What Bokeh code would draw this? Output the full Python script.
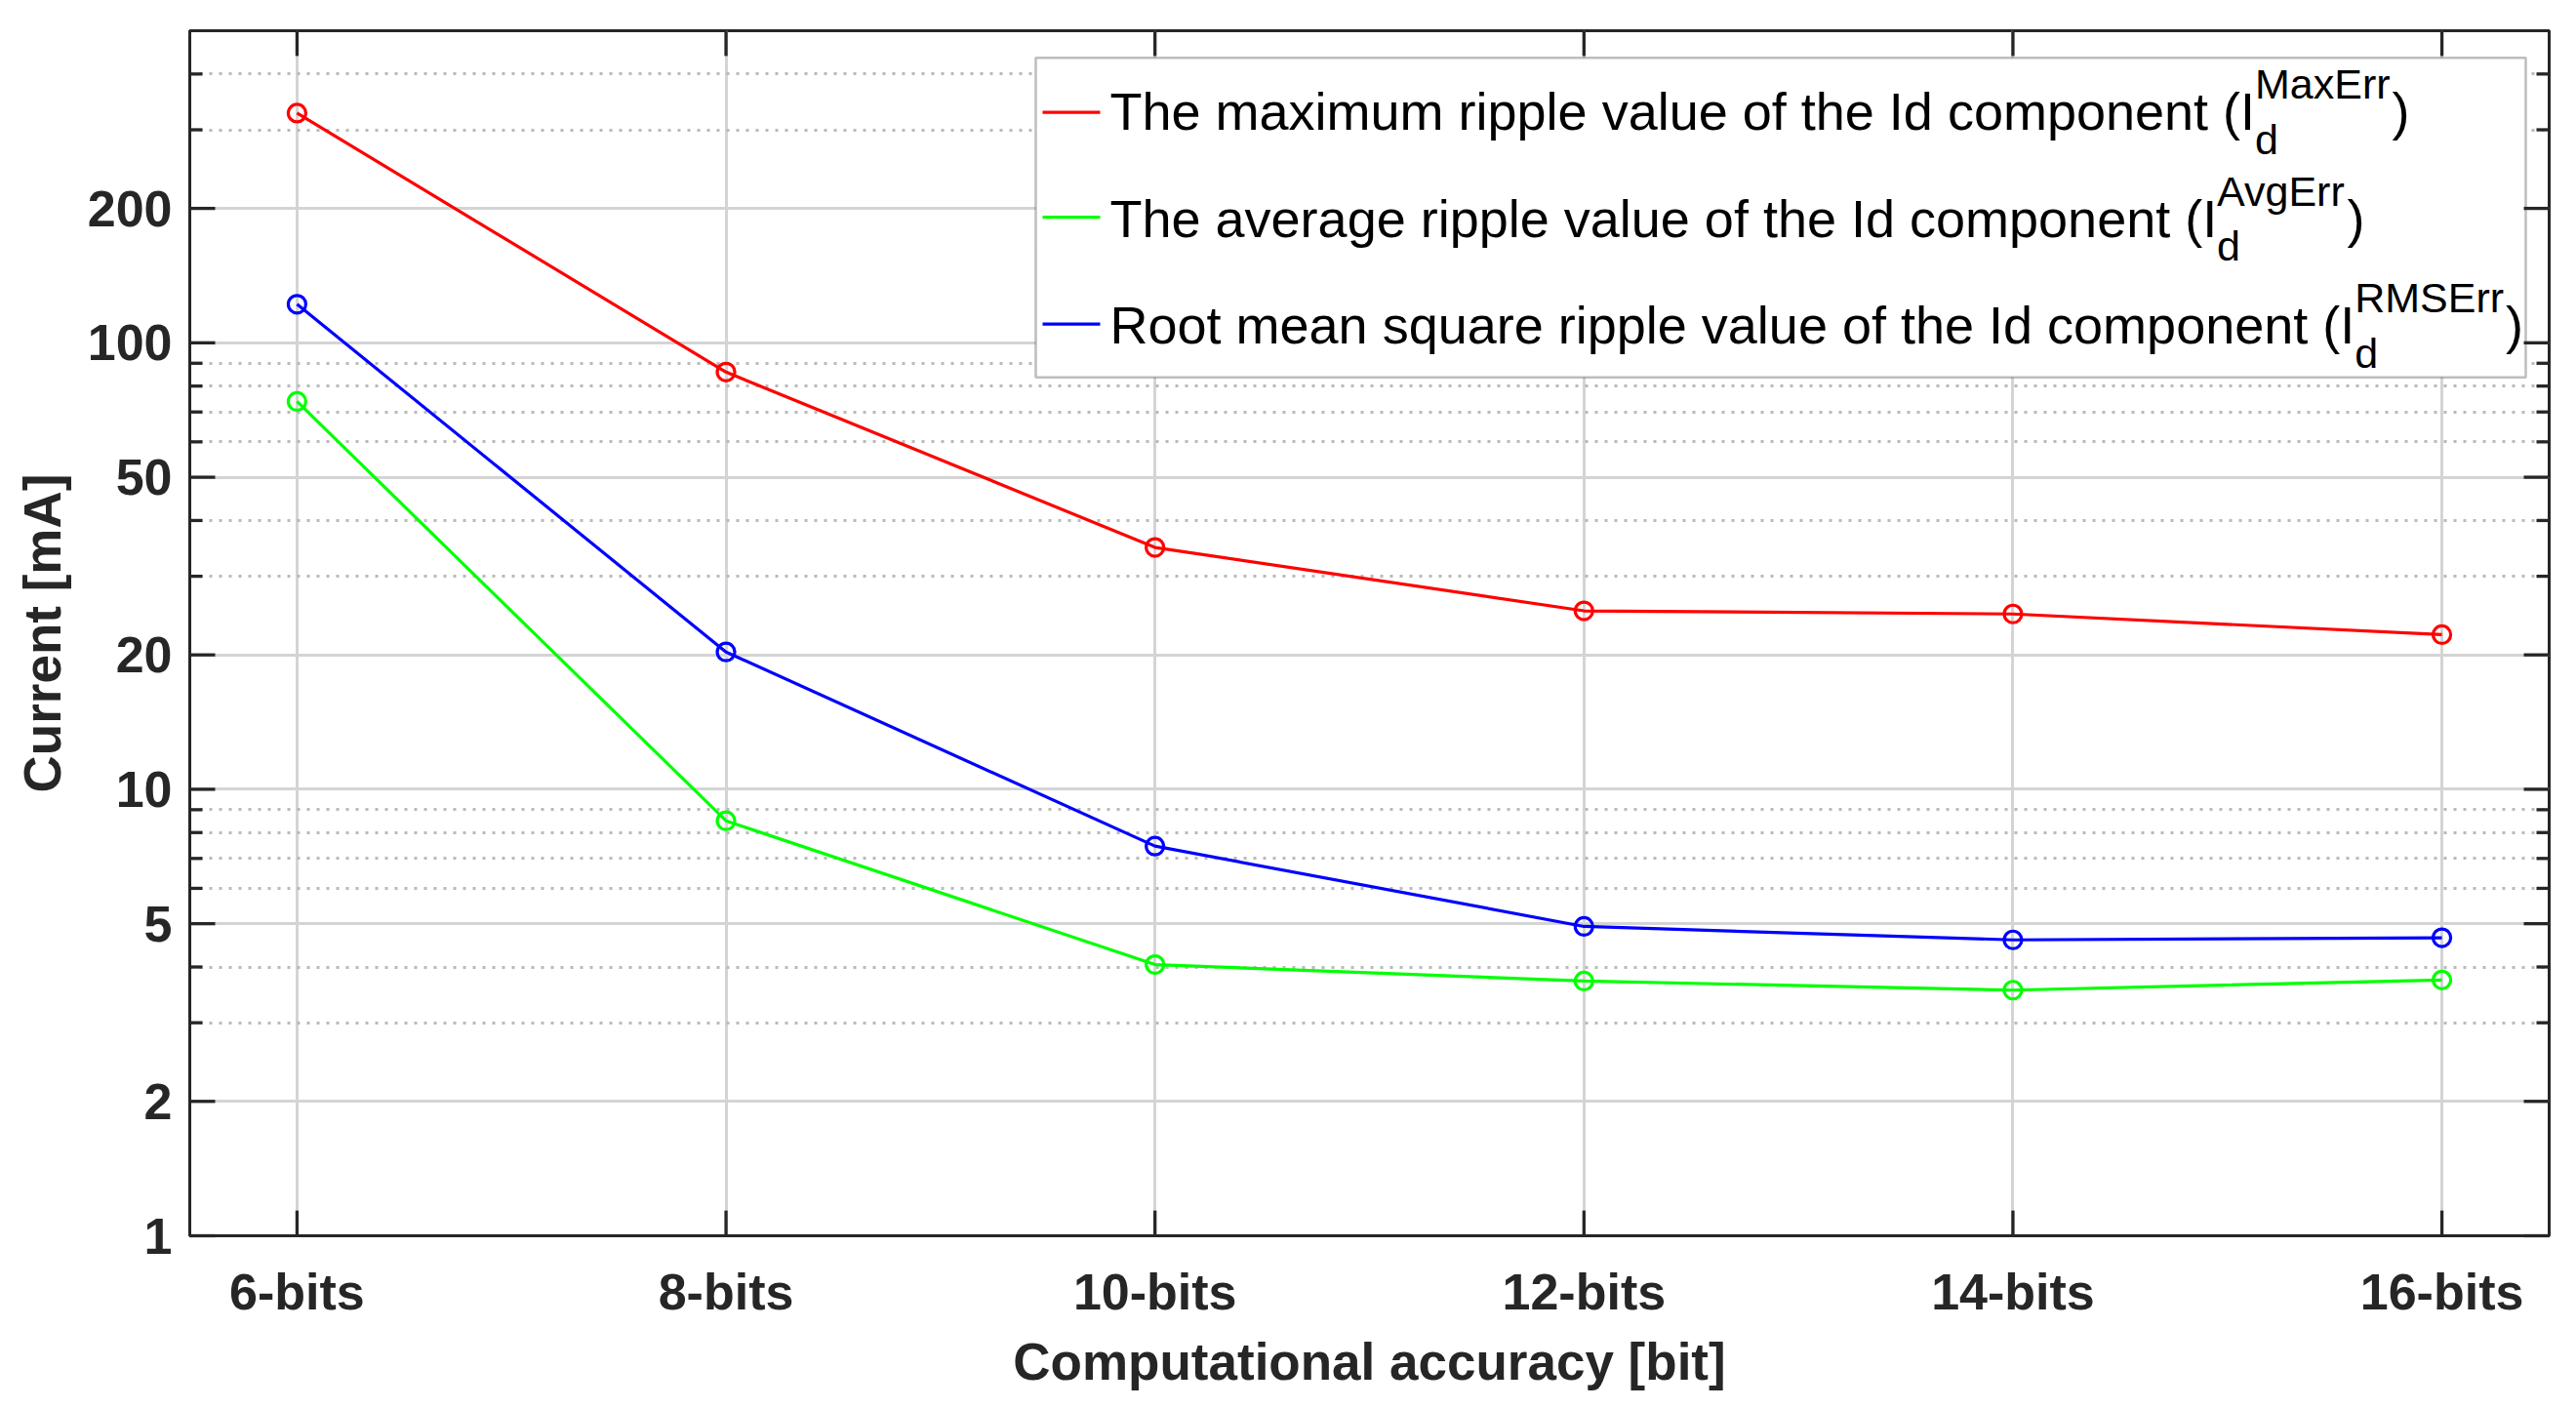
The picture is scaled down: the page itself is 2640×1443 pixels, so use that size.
import math
from bokeh.plotting import figure
from bokeh.models import FixedTicker, BoxAnnotation, Label, Range1d
from bokeh.embed import file_html
from bokeh.resources import INLINE

# ---------------- data ----------------
bits = [6, 8, 10, 12, 14, 16]
bit_labels = ["6-bits", "8-bits", "10-bits", "12-bits", "14-bits", "16-bits"]
max_err = [327, 86, 34.8, 25.1, 24.7, 22.2]      # I_d^MaxErr [mA]
avg_err = [73.9, 8.5, 4.05, 3.72, 3.55, 3.74]    # I_d^AvgErr [mA]
rms_err = [122, 20.3, 7.46, 4.93, 4.60, 4.65]    # I_d^RMSErr [mA]
y_major = [1, 2, 5, 10, 20, 50, 100, 200]
y_minor = [3, 4, 6, 7, 8, 9, 30, 40, 60, 70, 80, 90, 300, 400]
legend_main = [
    "The maximum ripple value of the Id component (I",
    "The average ripple value of the Id component (I",
    "Root mean square ripple value of the Id component (I",
]
legend_sup = ["MaxErr", "AvgErr", "RMSErr"]
legend_sub = "d"
series = [max_err, avg_err, rms_err]
colors = ["#ff0000", "#00ff00", "#0000ff"]

# ---------------- layout ----------------
W, H = 2624, 1427
ML, MR, MT, MB = 194, 12, 31, 155
FW, FH = W - ML - MR, H - MT - MB
X0, X1 = 5.5, 16.5
Y0, Y1 = 1, 500
FONT = "Liberation Sans"
AX = "#262626"

p = figure(width=W, height=H, x_range=Range1d(X0, X1), y_range=Range1d(Y0, Y1),
           y_axis_type="log", output_backend="svg", toolbar_location=None,
           min_border_left=ML, min_border_right=MR, min_border_top=MT, min_border_bottom=MB)
p.background_fill_color = "white"
p.border_fill_color = "white"
p.outline_line_color = AX
p.outline_line_width = 3


def style_axis(ax):
    ax.axis_line_color = AX
    ax.axis_line_width = 3
    ax.major_tick_in = 0
    ax.major_tick_out = 0
    ax.minor_tick_in = 0
    ax.minor_tick_out = 0
    ax.major_label_text_font = FONT
    ax.major_label_text_font_style = "bold"
    ax.major_label_text_font_size = "52px"
    ax.major_label_text_color = AX
    ax.axis_label_text_font = FONT
    ax.axis_label_text_font_style = "bold"
    ax.axis_label_text_font_size = "53px"
    ax.axis_label_text_color = AX


xt = FixedTicker(ticks=bits, minor_ticks=[])
yt = FixedTicker(ticks=y_major, minor_ticks=y_minor)

xa = p.xaxis[0]
xa.ticker = xt
xa.major_label_overrides = {b: l for b, l in zip(bits, bit_labels)}
style_axis(xa)
xa.major_label_standoff = 28
xa.axis_label = "Computational accuracy [bit]"
xa.axis_label_standoff = 10

ya = p.yaxis[0]
ya.ticker = yt
ya.major_label_overrides = {v: str(v) for v in y_major}
style_axis(ya)
ya.major_label_standoff = 18
ya.axis_label = "Current [mA]"
ya.axis_label_standoff = 14

# grids
p.xgrid.ticker = xt
p.ygrid.ticker = yt
p.xgrid.grid_line_color = "#d4d4d4"
p.xgrid.grid_line_width = 3
p.ygrid.grid_line_color = "#d4d4d4"
p.ygrid.grid_line_width = 3
p.ygrid.minor_grid_line_color = "#bababa"
p.ygrid.minor_grid_line_width = 3
p.ygrid.minor_grid_line_dash = "3 7"


# ---------------- helpers: frame pixel -> data ----------------
def fx(px):
    return X0 + px / FW * (X1 - X0)


def fy(py):
    ly0, ly1 = math.log10(Y0), math.log10(Y1)
    return 10 ** (ly1 - py / FH * (ly1 - ly0))


# inward ticks on all four sides (MATLAB box style)
MAJ, MIN = 26, 13
tick_kw = dict(line_color=AX, line_width=3.3, level="overlay")
nb, nM, nm = len(bits), len(y_major), len(y_minor)
p.segment(x0=bits, x1=bits, y0=[Y0] * nb, y1=[fy(FH - MAJ)] * nb, **tick_kw)
p.segment(x0=bits, x1=bits, y0=[Y1] * nb, y1=[fy(MAJ)] * nb, **tick_kw)
p.segment(x0=[X0] * nM, x1=[fx(MAJ)] * nM, y0=y_major, y1=y_major, **tick_kw)
p.segment(x0=[X1] * nM, x1=[fx(FW - MAJ)] * nM, y0=y_major, y1=y_major, **tick_kw)
p.segment(x0=[X0] * nm, x1=[fx(MIN)] * nm, y0=y_minor, y1=y_minor, **tick_kw)
p.segment(x0=[X1] * nm, x1=[fx(FW - MIN)] * nm, y0=y_minor, y1=y_minor, **tick_kw)

# data
for vals, c in zip(series, colors):
    p.line(bits, vals, line_color=c, line_width=3.2)
    p.scatter(bits, vals, marker="circle", size=18, line_color=c, line_width=3.2, fill_color=None)

# ---------------- legend (manual, to allow super/subscripts) ----------------
# Arial / Liberation Sans advance widths (per 1000 em)
CW = {" ": 278, "(": 333, ")": 333, "A": 667, "E": 667, "I": 278, "M": 833, "R": 722,
      "S": 667, "T": 611, "a": 556, "c": 500, "d": 556, "e": 556, "f": 278, "g": 556,
      "h": 556, "i": 222, "l": 222, "m": 833, "n": 556, "o": 556, "p": 556, "q": 556,
      "r": 333, "s": 500, "t": 278, "u": 556, "v": 500, "x": 500, "y": 500}


def tw(s, size):
    return sum(CW.get(ch, 556) for ch in s) / 1000.0 * size


LFS, SFS = 54, 43
box = BoxAnnotation(left=fx(867), right=fx(2394), top=fy(28), bottom=fy(357),
                    fill_color="white", fill_alpha=1.0, line_color=AX, line_width=2.5)
p.add_layout(box)

text_x = 943
row_base = [83, 193, 303]
row_line = [84, 192, 302]
for i in range(3):
    p.segment(x0=[fx(874)], x1=[fx(933)], y0=[fy(row_line[i])], y1=[fy(row_line[i])],
              line_color=colors[i], line_width=3.2, level="overlay")
    p.add_layout(Label(x=fx(text_x), y=fy(row_base[i]), text=legend_main[i],
                       text_font=FONT, text_font_size=f"{LFS}px", text_color="black",
                       text_baseline="alphabetic", text_align="left"))
    sx = text_x + tw(legend_main[i], LFS)
    p.add_layout(Label(x=fx(sx), y=fy(row_base[i] - 28), text=legend_sup[i],
                       text_font=FONT, text_font_size=f"{SFS}px", text_color="black",
                       text_baseline="alphabetic", text_align="left"))
    p.add_layout(Label(x=fx(sx), y=fy(row_base[i] + 29), text=legend_sub,
                       text_font=FONT, text_font_size=f"{SFS}px", text_color="black",
                       text_baseline="alphabetic", text_align="left"))
    cx = sx + max(tw(legend_sup[i], SFS), tw(legend_sub, SFS)) + 2
    p.add_layout(Label(x=fx(cx), y=fy(row_base[i]), text=")",
                       text_font=FONT, text_font_size=f"{LFS}px", text_color="black",
                       text_baseline="alphabetic", text_align="left"))

open("out.html", "w").write(file_html(p, INLINE))
